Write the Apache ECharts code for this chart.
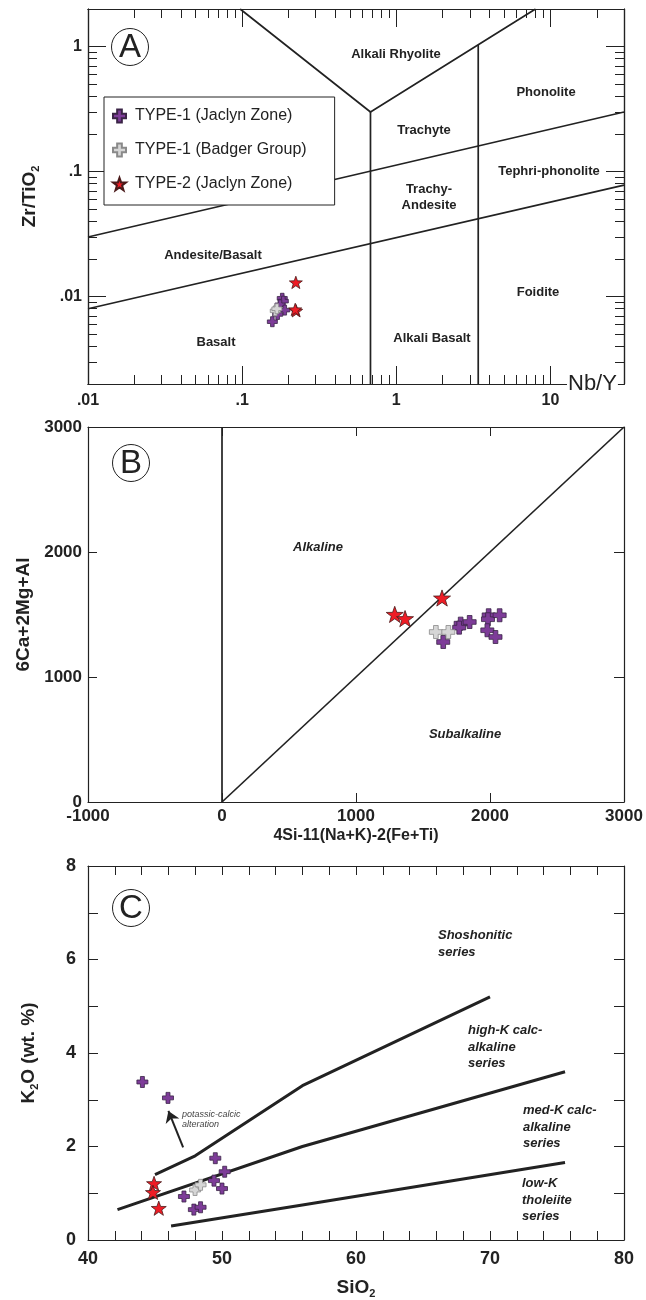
<!DOCTYPE html>
<html>
<head>
<meta charset="utf-8">
<script src="https://cdn.jsdelivr.net/npm/echarts@6/dist/echarts.min.js"></script>
<style>
  html, body { margin: 0; padding: 0; background: #fff; }
  #main { width: 646px; height: 1300px; }
</style>
</head>
<body>
<div id="main"></div>
<script>
  // ---- data: A  Nb/Y vs Zr/TiO2 (log-log) ----
  var aType1Jaclyn = [[0.182, 0.0097], [0.185, 0.0092], [0.176, 0.0086], [0.189, 0.0078], [0.170, 0.0072], [0.157, 0.0063]];
  var aType1Badger = [[0.164, 0.0077], [0.168, 0.0080]];
  var aType2Jaclyn = [[0.223, 0.0130], [0.224, 0.0077], [0.221, 0.0079]];
  var aLineV = [[0.097, 2], [0.68, 0.3], [8, 2]];
  var aLineMid = [[0.68, 0.3], [0.68, 0.002]];
  var aLineRight = [[3.4, 1.03], [3.4, 0.002]];
  var aLineUpper = [[0.01, 0.03], [30, 0.3]];
  var aLineLower = [[0.01, 0.008], [30, 0.078]];
  var aXMajor = [0.01, 0.1, 1, 10];
  var aXMinor = [0.02, 0.03, 0.04, 0.05, 0.06, 0.07, 0.08, 0.09, 0.2, 0.3, 0.4, 0.5, 0.6, 0.7, 0.8, 0.9, 2, 3, 4, 5, 6, 7, 8, 9, 20, 30];
  var aYMajor = [0.01, 0.1, 1];
  var aYMinor = [0.002, 0.003, 0.004, 0.005, 0.006, 0.007, 0.008, 0.009, 0.02, 0.03, 0.04, 0.05, 0.06, 0.07, 0.08, 0.09, 0.2, 0.3, 0.4, 0.5, 0.6, 0.7, 0.8, 0.9, 2];

  // ---- data: B  4Si-11(Na+K)-2(Fe+Ti) vs 6Ca+2Mg+Al ----
  var bType1Jaclyn = [[1651, 1280], [1781, 1427], [1770, 1395], [1848, 1440], [1990, 1494], [1985, 1462], [2072, 1494], [1980, 1374], [2041, 1320]];
  var bType1Badger = [[1596, 1360], [1689, 1360]];
  var bType2Jaclyn = [[1289, 1501], [1366, 1467], [1642, 1632]];
  var bLineVert = [[0, 0], [0, 3000]];
  var bLineDiag = [[0, 0], [3000, 3000]];

  // ---- data: C  SiO2 vs K2O ----
  var cType1Jaclyn = [[44.06, 3.38], [45.97, 3.04], [49.5, 1.75], [50.2, 1.46], [49.4, 1.27], [50.0, 1.10], [47.16, 0.93], [47.9, 0.65], [48.4, 0.70]];
  var cType1Badger = [[47.99, 1.07], [48.4, 1.18]];
  var cType2Jaclyn = [[44.93, 1.21], [44.85, 1.02], [45.28, 0.68]];
  var cLineShoshonite = [[45, 1.4], [48, 1.8], [56, 3.3], [70, 5.2]];
  var cLineHighK = [[42.2, 0.65], [56, 2.0], [75.6, 3.6]];
  var cLineLowK = [[46.2, 0.3], [56, 0.75], [75.6, 1.66]];
  var cArrow = [[47.1, 1.98], [46.0, 2.76]];
  var cXLabels = [40, 50, 60, 70, 80];
  var cYLabels = [0, 2, 4, 6, 8];

  var NAMES = ['TYPE-1 (Jaclyn Zone)', 'TYPE-1 (Badger Group)', 'TYPE-2 (Jaclyn Zone)'];

  var FONT = '"Liberation Sans", Arial, Helvetica, sans-serif';
  var INK = '#222';
  var CROSS = 'path://M3.2,0H6.8V3.2H10V6.8H6.8V10H3.2V6.8H0V3.2H3.2Z';
  var STAR = 'path://M50,0L61.76,33.82L97.55,34.55L69.02,56.18L79.39,90.45L50,70L20.61,90.45L30.98,56.18L2.45,34.55L38.24,33.82Z';
  var STYLE = {};
  STYLE[NAMES[0]] = {color: '#7D3C98', borderColor: '#3a2446', borderWidth: 0.8, opacity: 1};
  STYLE[NAMES[1]] = {color: '#D6D6D6', borderColor: '#8a8a8a', borderWidth: 0.8, opacity: 1};
  STYLE[NAMES[2]] = {color: '#EE1C25', borderColor: '#4a1a1a', borderWidth: 0.8, opacity: 1};

  function dotless(v) {
    return String(v).replace(/^0\./, '.');
  }

  function plain(v) {
    return String(v);
  }

  // one side of a frame, ticks pointing inward
  function frameAxis(o) {
    return {
      type: o.type || 'value',
      gridIndex: o.grid,
      position: o.pos,
      min: o.min,
      max: o.max,
      interval: o.interval,
      logBase: 10,
      axisLine: {show: true, onZero: false, lineStyle: {color: INK, width: 1.2}},
      axisTick: {show: true, inside: true, length: o.tick, customValues: o.ticks, lineStyle: {color: INK, width: 1}},
      axisLabel: o.labels ? {
        show: true,
        customValues: o.labelValues,
        formatter: o.formatter || plain,
        margin: o.margin,
        color: INK,
        fontFamily: FONT,
        fontWeight: 'bold',
        fontSize: o.fontSize
      } : {show: false},
      splitLine: {show: false},
      name: o.name,
      nameLocation: 'middle',
      nameGap: o.nameGap,
      nameTextStyle: o.nameStyle
    };
  }

  function subName(size) {
    return {
      color: INK,
      rich: {
        m: {fontFamily: FONT, fontWeight: 'bold', fontSize: size, color: INK, lineHeight: size + 4},
        s: {fontFamily: FONT, fontWeight: 'bold', fontSize: Math.round(size * 0.6), color: INK, verticalAlign: 'bottom', lineHeight: size + 4}
      }
    };
  }

  var xAxes = [
    // A
    frameAxis({type: 'log', grid: 0, pos: 'bottom', min: 0.01, max: 30, tick: 18, ticks: aXMajor, labels: true, labelValues: aXMajor, formatter: dotless, margin: 9, fontSize: 16}),
    frameAxis({type: 'log', grid: 0, pos: 'bottom', min: 0.01, max: 30, tick: 9, ticks: aXMinor}),
    frameAxis({type: 'log', grid: 0, pos: 'top', min: 0.01, max: 30, tick: 18, ticks: aXMajor}),
    frameAxis({type: 'log', grid: 0, pos: 'top', min: 0.01, max: 30, tick: 9, ticks: aXMinor}),
    // B
    frameAxis({grid: 1, pos: 'bottom', min: -1000, max: 3000, interval: 1000, tick: 9, labels: true, margin: 6, fontSize: 17,
      name: '4Si-11(Na+K)-2(Fe+Ti)', nameGap: 26, nameStyle: {fontFamily: FONT, fontWeight: 'bold', fontSize: 16, color: INK}}),
    frameAxis({grid: 1, pos: 'top', min: -1000, max: 3000, interval: 1000, tick: 9}),
    // C
    frameAxis({grid: 2, pos: 'bottom', min: 40, max: 80, interval: 2, tick: 9, labels: true, labelValues: cXLabels, margin: 10, fontSize: 18,
      name: '{m|SiO}{s|2}', nameGap: 36, nameStyle: subName(19)}),
    frameAxis({grid: 2, pos: 'top', min: 40, max: 80, interval: 2, tick: 9})
  ];

  var yAxes = [
    // A
    frameAxis({type: 'log', grid: 0, pos: 'left', min: 0.002, max: 2, tick: 18, ticks: aYMajor, labels: true, labelValues: aYMajor, formatter: dotless, margin: 6, fontSize: 16,
      name: '{m|Zr/TiO}{s|2}', nameGap: 47, nameStyle: subName(19)}),
    frameAxis({type: 'log', grid: 0, pos: 'left', min: 0.002, max: 2, tick: 9, ticks: aYMinor}),
    frameAxis({type: 'log', grid: 0, pos: 'right', min: 0.002, max: 2, tick: 18, ticks: aYMajor}),
    frameAxis({type: 'log', grid: 0, pos: 'right', min: 0.002, max: 2, tick: 9, ticks: aYMinor}),
    // B
    frameAxis({grid: 1, pos: 'left', min: 0, max: 3000, interval: 1000, tick: 9, labels: true, margin: 6, fontSize: 17,
      name: '6Ca+2Mg+Al', nameGap: 54, nameStyle: {fontFamily: FONT, fontWeight: 'bold', fontSize: 19, color: INK}}),
    frameAxis({grid: 1, pos: 'right', min: 0, max: 3000, interval: 1000, tick: 10}),
    // C
    frameAxis({grid: 2, pos: 'left', min: 0, max: 8, interval: 1, tick: 10, labels: true, labelValues: cYLabels, margin: 12, fontSize: 18,
      name: '{m|K}{s|2}{m|O (wt. %)}', nameGap: 48, nameStyle: subName(19)}),
    frameAxis({grid: 2, pos: 'right', min: 0, max: 8, interval: 1, tick: 10})
  ];

  // axis indices used by each panel's series
  var AX = [0, 4, 6];

  function points(name, data, panel, symbol, size) {
    return {
      type: 'scatter',
      name: name,
      data: data,
      xAxisIndex: AX[panel],
      yAxisIndex: AX[panel],
      symbol: symbol,
      symbolSize: size,
      symbolKeepAspect: true,
      itemStyle: STYLE[name],
      z: 3
    };
  }

  function boundary(data, panel, width) {
    return {
      type: 'line',
      data: data,
      xAxisIndex: AX[panel],
      yAxisIndex: AX[panel],
      symbol: 'none',
      showSymbol: false,
      silent: true,
      lineStyle: {color: INK, width: width},
      z: 2
    };
  }

  var series = [
    boundary(aLineV, 0, 1.7),
    boundary(aLineMid, 0, 1.7),
    boundary(aLineRight, 0, 1.7),
    boundary(aLineUpper, 0, 1.7),
    boundary(aLineLower, 0, 1.7),
    boundary(bLineVert, 1, 1.7),
    boundary(bLineDiag, 1, 1.7),
    boundary(cLineShoshonite, 2, 3),
    boundary(cLineHighK, 2, 3),
    boundary(cLineLowK, 2, 3),
    {
      type: 'lines',
      coordinateSystem: 'cartesian2d',
      xAxisIndex: 6,
      yAxisIndex: 6,
      data: [{coords: cArrow}],
      symbol: ['none', 'arrow'],
      symbolSize: 11,
      silent: true,
      lineStyle: {color: INK, width: 2, opacity: 1},
      z: 2
    },
    points(NAMES[0], aType1Jaclyn, 0, CROSS, 10),
    points(NAMES[1], aType1Badger, 0, CROSS, 10),
    points(NAMES[2], aType2Jaclyn, 0, STAR, 13),
    points(NAMES[0], bType1Jaclyn, 1, CROSS, 13),
    points(NAMES[1], bType1Badger, 1, CROSS, 13),
    points(NAMES[2], bType2Jaclyn, 1, STAR, 17),
    points(NAMES[0], cType1Jaclyn, 2, CROSS, 11),
    points(NAMES[1], cType1Badger, 2, CROSS, 11),
    points(NAMES[2], cType2Jaclyn, 2, STAR, 15)
  ];

  function label(text, x, y, opts) {
    opts = opts || {};
    var size = opts.size || 13;
    var font = (opts.italic ? 'italic ' : '') + (opts.bold === false ? '' : 'bold ') + size + 'px ' + FONT;
    return {
      type: 'text',
      x: x,
      y: y,
      z: opts.z || 10,
      style: {
        text: text,
        font: font,
        fill: opts.color || INK,
        align: opts.align || 'center',
        verticalAlign: opts.valign || 'middle',
        textAlign: opts.align || 'center',
        textVerticalAlign: opts.valign || 'middle',
        lineHeight: opts.lineHeight,
        backgroundColor: opts.bg,
        padding: opts.pad
      }
    };
  }

  function circled(letter, cx, cy) {
    return [
      {type: 'circle', shape: {cx: cx, cy: cy, r: 18.5}, style: {fill: '#fff', stroke: INK, lineWidth: 1}, z: 10},
      label(letter, cx, cy + 1, {size: 33, bold: false, z: 11})
    ];
  }

  var graphics = [].concat(
    circled('A', 130, 47),
    circled('B', 131, 463),
    circled('C', 131, 908),
    [
      label('Alkali Rhyolite', 396, 54),
      label('Phonolite', 546, 92),
      label('Trachyte', 424, 130),
      label('Tephri-phonolite', 549, 171),
      label('Trachy-\nAndesite', 429, 197, {lineHeight: 16}),
      label('Andesite/Basalt', 213, 255),
      label('Foidite', 538, 292),
      label('Alkali Basalt', 432, 338),
      label('Basalt', 216, 342),
      label('Nb/Y', 567, 383.5, {size: 22, bold: false, align: 'left', bg: '#fff', pad: [0, 1, 0, 1], z: 50}),

      label('Alkaline', 318, 547, {italic: true}),
      label('Subalkaline', 465, 734, {italic: true}),

      label('Shoshonitic\nseries', 438, 927, {italic: true, align: 'left', valign: 'top', lineHeight: 16.7}),
      label('high-K calc-\nalkaline\nseries', 468, 1022, {italic: true, align: 'left', valign: 'top', lineHeight: 16.7}),
      label('med-K calc-\nalkaline\nseries', 523, 1102, {italic: true, align: 'left', valign: 'top', lineHeight: 16.7}),
      label('low-K\ntholeiite\nseries', 522, 1175, {italic: true, align: 'left', valign: 'top', lineHeight: 16.7}),
      label('potassic-calcic\nalteration', 182, 1109, {italic: true, bold: false, size: 9, align: 'left', valign: 'top', lineHeight: 10, color: '#444'})
    ]
  );

  var chart = echarts.init(document.getElementById('main'));
  chart.setOption({
    animation: false,
    backgroundColor: '#fff',
    textStyle: {fontFamily: FONT},
    grid: [
      {left: 88, top: 9, width: 536, height: 375},
      {left: 88, top: 427, width: 536, height: 375},
      {left: 88, top: 866, width: 536, height: 375}
    ],
    xAxis: xAxes,
    yAxis: yAxes,
    legend: {
      data: NAMES,
      orient: 'vertical',
      left: 104,
      top: 97,
      padding: [11, 28, 13, 8],
      itemGap: 18,
      itemWidth: 13,
      itemHeight: 13,
      selectedMode: false,
      backgroundColor: '#fff',
      borderColor: INK,
      borderWidth: 1,
      borderRadius: 0,
      textStyle: {fontFamily: FONT, fontSize: 16, color: INK, padding: [0, 0, 0, 4]}
    },
    series: series,
    graphic: graphics
  });
</script>
</body>
</html>
